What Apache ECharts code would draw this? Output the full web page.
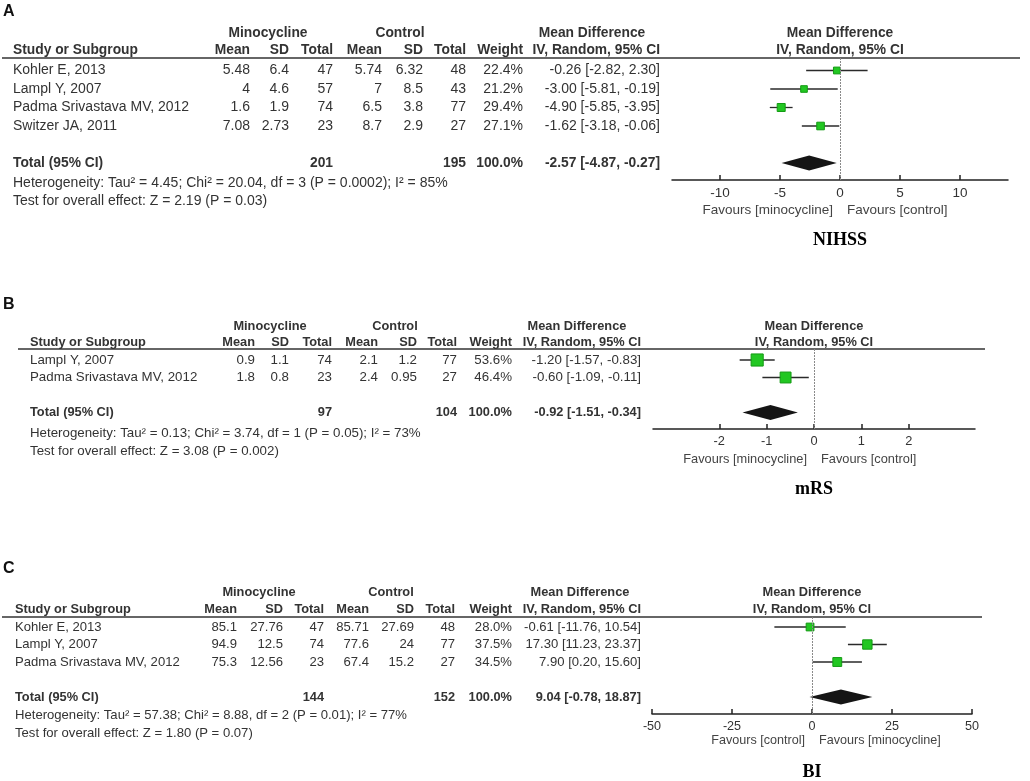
<!DOCTYPE html>
<html>
<head>
<meta charset="utf-8">
<script src="https://cdn.jsdelivr.net/npm/echarts@6/dist/echarts.min.js"></script>
<style>
  html, body { margin: 0; padding: 0; background: #fff; }
  #chart { width: 1030px; height: 781px; }
</style>
</head>
<body>
<div id="chart"></div>
<script>
// ---- data: NIHSS ----
var nihssStudies = ['Kohler E, 2013', 'Lampl Y, 2007', 'Padma Srivastava MV, 2012', 'Switzer JA, 2011'];
var nihssMinoMean = [5.48, 4, 1.6, 7.08];
var nihssMinoSD = [6.4, 4.6, 1.9, 2.73];
var nihssMinoN = [47, 57, 74, 23];
var nihssCtrlMean = [5.74, 7, 6.5, 8.7];
var nihssCtrlSD = [6.32, 8.5, 3.8, 2.9];
var nihssCtrlN = [48, 43, 77, 27];
var nihssWeight = [22.4, 21.2, 29.4, 27.1];
var nihssMD = [-0.26, -3.00, -4.90, -1.62];
var nihssLow = [-2.82, -5.81, -5.85, -3.18];
var nihssHigh = [2.30, -0.19, -3.95, -0.06];
var nihssTotals = [201, 195];
var nihssPooled = [-2.57, -4.87, -0.27];
var nihssStats = ['Heterogeneity: Tau\u00b2 = 4.45; Chi\u00b2 = 20.04, df = 3 (P = 0.0002); I\u00b2 = 85%',
                  'Test for overall effect: Z = 2.19 (P = 0.03)'];
var nihssTicks = [-10, -5, 0, 5, 10];
var nihssFavours = ['Favours [minocycline]', 'Favours [control]'];

// ---- data: mRS ----
var mrsStudies = ['Lampl Y, 2007', 'Padma Srivastava MV, 2012'];
var mrsMinoMean = [0.9, 1.8];
var mrsMinoSD = [1.1, 0.8];
var mrsMinoN = [74, 23];
var mrsCtrlMean = [2.1, 2.4];
var mrsCtrlSD = [1.2, 0.95];
var mrsCtrlN = [77, 27];
var mrsWeight = [53.6, 46.4];
var mrsMD = [-1.20, -0.60];
var mrsLow = [-1.57, -1.09];
var mrsHigh = [-0.83, -0.11];
var mrsTotals = [97, 104];
var mrsPooled = [-0.92, -1.51, -0.34];
var mrsStats = ['Heterogeneity: Tau\u00b2 = 0.13; Chi\u00b2 = 3.74, df = 1 (P = 0.05); I\u00b2 = 73%',
                'Test for overall effect: Z = 3.08 (P = 0.002)'];
var mrsTicks = [-2, -1, 0, 1, 2];
var mrsFavours = ['Favours [minocycline]', 'Favours [control]'];

// ---- data: BI ----
var biStudies = ['Kohler E, 2013', 'Lampl Y, 2007', 'Padma Srivastava MV, 2012'];
var biMinoMean = [85.1, 94.9, 75.3];
var biMinoSD = [27.76, 12.5, 12.56];
var biMinoN = [47, 74, 23];
var biCtrlMean = [85.71, 77.6, 67.4];
var biCtrlSD = [27.69, 24, 15.2];
var biCtrlN = [48, 77, 27];
var biWeight = [28.0, 37.5, 34.5];
var biMD = [-0.61, 17.30, 7.90];
var biLow = [-11.76, 11.23, 0.20];
var biHigh = [10.54, 23.37, 15.60];
var biTotals = [144, 152];
var biPooled = [9.04, -0.78, 18.87];
var biStats = ['Heterogeneity: Tau\u00b2 = 57.38; Chi\u00b2 = 8.88, df = 2 (P = 0.01); I\u00b2 = 77%',
               'Test for overall effect: Z = 1.80 (P = 0.07)'];
var biTicks = [-50, -25, 0, 25, 50];
var biFavours = ['Favours [control]', 'Favours [minocycline]'];

// ---- panels: data + layout ----
var panels = [
  {
    letter: 'A', title: 'NIHSS',
    studies: nihssStudies, cols: [nihssMinoMean, nihssMinoSD, nihssMinoN, nihssCtrlMean, nihssCtrlSD, nihssCtrlN],
    weight: nihssWeight, md: nihssMD, low: nihssLow, high: nihssHigh,
    totals: nihssTotals, pooled: nihssPooled, stats: nihssStats, ticks: nihssTicks, favours: nihssFavours,
    fs: 14, bfs: 13.8,
    letterY: 12, groupY: 33, headY: 50, lineY: 58, lineX: [2, 1020],
    row0: 70.5, step: 18.5, totalIdx: 5, axisY: 180, statY: [183, 201], favY: 210, titleY: 240,
    nameX: 13, colX: [250, 289, 333, 382, 423, 466], weightX: 523, mdX: 660, mdHeadX: 592,
    groupX: [268, 400], left: 672, width: 336, min: -14, max: 14
  },
  {
    letter: 'B', title: 'mRS',
    studies: mrsStudies, cols: [mrsMinoMean, mrsMinoSD, mrsMinoN, mrsCtrlMean, mrsCtrlSD, mrsCtrlN],
    weight: mrsWeight, md: mrsMD, low: mrsLow, high: mrsHigh,
    totals: mrsTotals, pooled: mrsPooled, stats: mrsStats, ticks: mrsTicks, favours: mrsFavours,
    fs: 13.3, bfs: 12.8,
    letterY: 305, groupY: 326, headY: 342, lineY: 349, lineX: [18, 985],
    row0: 360, step: 17.5, totalIdx: 3, axisY: 429, statY: [433, 451], favY: 459, titleY: 489,
    nameX: 30, colX: [255, 289, 332, 378, 417, 457], weightX: 512, mdX: 641, mdHeadX: 577,
    groupX: [270, 395], left: 653, width: 322, min: -3.4, max: 3.4
  },
  {
    letter: 'C', title: 'BI',
    studies: biStudies, cols: [biMinoMean, biMinoSD, biMinoN, biCtrlMean, biCtrlSD, biCtrlN],
    weight: biWeight, md: biMD, low: biLow, high: biHigh,
    totals: biTotals, pooled: biPooled, stats: biStats, ticks: biTicks, favours: biFavours,
    fs: 13.1, bfs: 12.8,
    letterY: 569, groupY: 592, headY: 609, lineY: 617, lineX: [2, 982],
    row0: 627, step: 17.5, totalIdx: 4, axisY: 714, statY: [715, 733], favY: 741, titleY: 772,
    nameX: 15, colX: [237, 283, 324, 369, 414, 455], weightX: 512, mdX: 641, mdHeadX: 580,
    groupX: [259, 391], left: 652, width: 320, min: -50, max: 50
  }
];

var FONT = '"Liberation Sans", Arial, sans-serif';
var TXT = '#333';

function txt(x, y, s, o) {
  o = o || {};
  return {
    type: 'text', x: x, y: y, silent: true,
    style: {
      text: s, align: o.align || 'left', verticalAlign: 'middle',
      font: (o.bold ? 'bold ' : '') + (o.size || 14) + 'px ' + (o.family || FONT),
      fill: o.color || TXT
    }
  };
}

function ci(md, lo, hi) {
  return md.toFixed(2) + ' [' + lo.toFixed(2) + ', ' + hi.toFixed(2) + ']';
}

var myChart = echarts.init(document.getElementById('chart'));
var grids = [], xAxes = [], yAxes = [], series = [], graphics = [];

panels.forEach(function (p, gi) {
  var rowY = function (i) { return p.row0 + i * p.step; };
  var totalY = rowY(p.totalIdx);
  var zx = p.left + (0 - p.min) / (p.max - p.min) * p.width;
  var B = function (align) { return { bold: true, size: p.bfs, align: align || 'left' }; };
  var r = function (align) { return { size: p.fs, align: align || 'left' }; };

  // table text
  graphics.push(txt(3, p.letterY, p.letter, { bold: true, size: 16, color: '#111' }));
  graphics.push(txt(p.groupX[0], p.groupY, 'Minocycline', B('center')));
  graphics.push(txt(p.groupX[1], p.groupY, 'Control', B('center')));
  graphics.push(txt(p.mdHeadX, p.groupY, 'Mean Difference', B('center')));
  graphics.push(txt(zx, p.groupY, 'Mean Difference', B('center')));
  graphics.push(txt(p.nameX, p.headY, 'Study or Subgroup', B()));
  ['Mean', 'SD', 'Total', 'Mean', 'SD', 'Total'].forEach(function (h, k) {
    graphics.push(txt(p.colX[k], p.headY, h, B('right')));
  });
  graphics.push(txt(p.weightX, p.headY, 'Weight', B('right')));
  graphics.push(txt(p.mdX, p.headY, 'IV, Random, 95% CI', B('right')));
  graphics.push(txt(zx, p.headY, 'IV, Random, 95% CI', B('center')));
  graphics.push({
    type: 'line', silent: true,
    shape: { x1: p.lineX[0], y1: p.lineY, x2: p.lineX[1], y2: p.lineY },
    style: { stroke: '#333', lineWidth: 1.5 }
  });

  p.studies.forEach(function (name, i) {
    var y = rowY(i);
    graphics.push(txt(p.nameX, y, name, r()));
    p.cols.forEach(function (col, k) {
      graphics.push(txt(p.colX[k], y, String(col[i]), r('right')));
    });
    graphics.push(txt(p.weightX, y, p.weight[i].toFixed(1) + '%', r('right')));
    graphics.push(txt(p.mdX, y, ci(p.md[i], p.low[i], p.high[i]), r('right')));
  });

  graphics.push(txt(p.nameX, totalY, 'Total (95% CI)', B()));
  graphics.push(txt(p.colX[2], totalY, String(p.totals[0]), B('right')));
  graphics.push(txt(p.colX[5], totalY, String(p.totals[1]), B('right')));
  graphics.push(txt(p.weightX, totalY, '100.0%', B('right')));
  graphics.push(txt(p.mdX, totalY, ci(p.pooled[0], p.pooled[1], p.pooled[2]), B('right')));
  graphics.push(txt(p.nameX, p.statY[0], p.stats[0], r()));
  graphics.push(txt(p.nameX, p.statY[1], p.stats[1], r()));

  // favours + panel title
  graphics.push(txt(zx - 7, p.favY, p.favours[0], { align: 'right', size: p.fs - 0.5, color: '#444' }));
  graphics.push(txt(zx + 7, p.favY, p.favours[1], { align: 'left', size: p.fs - 0.5, color: '#444' }));
  graphics.push(txt(zx, p.titleY, p.title, { bold: true, align: 'center', size: 18, color: '#000',
    family: '"Liberation Serif", "Times New Roman", serif' }));

  // plot area
  grids.push({ left: p.left, width: p.width, top: p.lineY, height: p.axisY - p.lineY });
  xAxes.push({
    gridIndex: gi, type: 'value', min: p.min, max: p.max, position: 'bottom',
    axisLine: { show: true, onZero: false, lineStyle: { color: '#222', width: 1.5 } },
    axisTick: { show: true, inside: true, length: 5, customValues: p.ticks, lineStyle: { color: '#222', width: 1.5 } },
    axisLabel: { customValues: p.ticks, margin: 6, color: '#333', fontSize: p.fs - 0.5, fontFamily: FONT },
    splitLine: { show: false }
  });
  yAxes.push({
    gridIndex: gi, type: 'value', inverse: true, show: false,
    min: -(p.row0 - p.lineY) / p.step,
    max: p.totalIdx + (p.axisY - totalY) / p.step
  });

  var ciData = p.studies.map(function (s, i) { return [p.low[i], p.high[i], i]; });
  var ptData = p.studies.map(function (s, i) { return [p.md[i], i, p.weight[i]]; });

  series.push({
    type: 'custom', xAxisIndex: gi, yAxisIndex: gi, silent: true,
    data: ciData, encode: { x: [0, 1], y: 2 },
    renderItem: function (params, api) {
      var a = api.coord([api.value(0), api.value(2)]);
      var b = api.coord([api.value(1), api.value(2)]);
      return { type: 'line', shape: { x1: a[0], y1: a[1], x2: b[0], y2: b[1] },
        style: { stroke: '#2a2a2a', lineWidth: 1.3 } };
    }
  });
  series.push({
    type: 'scatter', xAxisIndex: gi, yAxisIndex: gi, silent: true,
    data: ptData, symbol: 'rect',
    symbolSize: function (val) { return 3 + val[2] * 0.17; },
    itemStyle: { color: '#22c722', borderColor: '#139a13', borderWidth: 1, opacity: 1 },
    markLine: {
      silent: true, symbol: 'none', label: { show: false },
      lineStyle: { color: '#8a8a8a', type: [2, 1], width: 1 },
      data: [{ xAxis: 0 }]
    }
  });
  series.push({
    type: 'custom', xAxisIndex: gi, yAxisIndex: gi, silent: true,
    data: [[p.pooled[0], p.pooled[1], p.pooled[2], p.totalIdx]], encode: { x: [0, 1, 2], y: 3 },
    renderItem: function (params, api) {
      var c = api.coord([api.value(0), api.value(3)]);
      var l = api.coord([api.value(1), api.value(3)]);
      var rr = api.coord([api.value(2), api.value(3)]);
      return { type: 'polygon',
        shape: { points: [[l[0], c[1]], [c[0], c[1] - 7.5], [rr[0], c[1]], [c[0], c[1] + 7.5]] },
        style: { fill: '#151515' } };
    }
  });
});

var option = {
  animation: false,
  backgroundColor: '#fff',
  grid: grids,
  xAxis: xAxes,
  yAxis: yAxes,
  series: series,
  graphic: graphics
};

myChart.setOption(option);
</script>
</body>
</html>
